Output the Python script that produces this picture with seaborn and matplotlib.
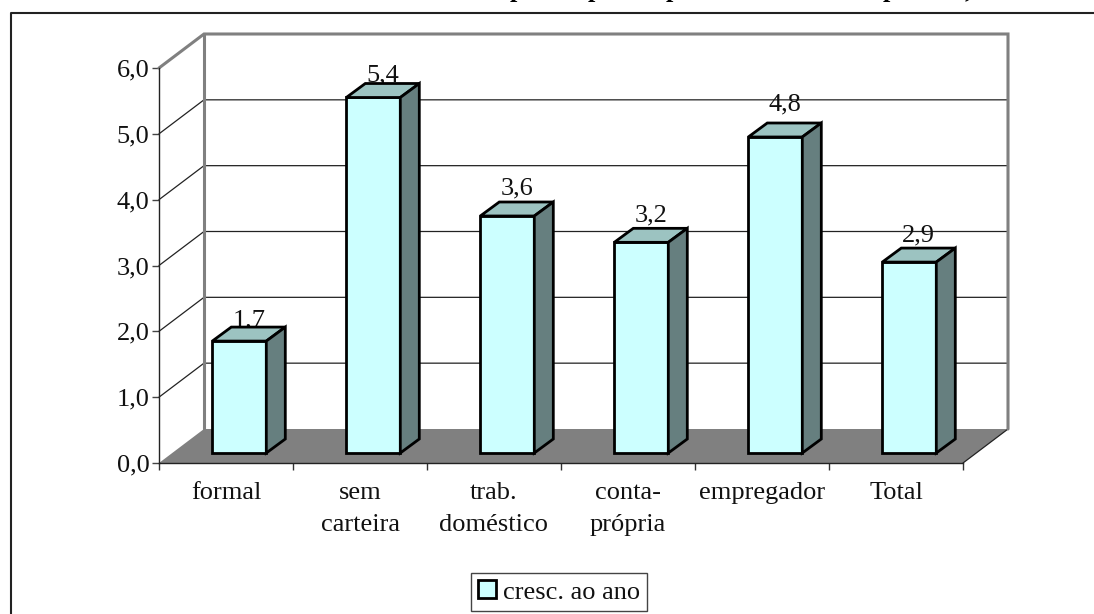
"""Crescimento ao ano por posição na ocupação - barras com efeito 3D."""

import matplotlib
matplotlib.use("Agg")
import matplotlib.pyplot as plt
import pandas as pd
import seaborn as sns
from matplotlib.lines import Line2D
from matplotlib.patches import Patch, Polygon

categorias = ["formal", "sem\ncarteira", "trab.\ndoméstico", "conta-\nprópria", "empregador", "Total"]
valores = [1.7, 5.4, 3.6, 3.2, 4.8, 2.9]
rotulos = ["1,7", "5,4", "3,6", "3,2", "4,8", "2,9"]
y_ticks = [0, 1, 2, 3, 4, 5, 6]
y_labels = ["0,0", "1,0", "2,0", "3,0", "4,0", "5,0", "6,0"]
serie = "cresc. ao ano"

# restos do titulo cortado no topo da imagem (so as descendentes aparecem)
titulo_chars = ["p", "p", "p", "p", ","]
titulo_x = [517, 595, 673, 890, 968]

W, H = 1094, 614
PX_X = 134.0  # pixels por categoria
PX_Y = 65.83  # pixels por unidade em y
FONTE = 19

FACE = "#CCFFFF"
TOPO = "#9CC3C1"
LADO = "#667F7F"
CINZA = "#808080"

sns.set_theme(style="white")
plt.rcParams["font.family"] = ["Liberation Serif", "DejaVu Serif"]

df = pd.DataFrame({"categoria": categorias, "valor": valores})

fig = plt.figure(figsize=(W / 100, H / 100), dpi=100, facecolor="white")
ax = fig.add_axes([159 / W, 1 - 463 / H, 804 / W, 395 / H])

sns.barplot(data=df, x="categoria", y="valor", color=FACE, saturation=1, width=54 / PX_X,
            edgecolor="black", linewidth=2, ax=ax, zorder=5)
ax.set_xlim(-0.5, 5.5)
ax.set_ylim(0, 6)
ax.set_xlabel("")
ax.set_ylabel("")

# profundidade da parede e das barras, em unidades dos dados
wx, wy = 45 / PX_X, 34 / PX_Y
bx, by = 19 / PX_X, 14 / PX_Y
shift_x, base_y = 13.3 / PX_X, 10 / PX_Y

# chao e paredes
ax.add_patch(Polygon([(-0.5, 0), (5.5, 0), (5.5 + wx, wy), (-0.5 + wx, wy)],
                     facecolor=CINZA, edgecolor="none", zorder=1, clip_on=False))
for y in y_ticks[1:-1]:
    ax.plot([-0.5, -0.5 + wx, 5.5 + wx], [y, y + wy, y + wy], color="#222222", lw=0.9,
            zorder=2, clip_on=False)
ax.plot([5.5, 5.5 + wx], [0, wy], color="#222222", lw=0.9, zorder=2, clip_on=False)
ax.plot([-0.5, -0.5 + wx, 5.5 + wx, 5.5 + wx], [6, 6 + wy, 6 + wy, wy], color=CINZA, lw=2.2,
        zorder=3, clip_on=False, solid_joinstyle="miter")
ax.plot([-0.5 + wx, -0.5 + wx], [wy, 6 + wy], color=CINZA, lw=2.2, zorder=3, clip_on=False)

# desloca as frentes e desenha topo e lado de cada barra
nudges = [1, 2, 8, 7, 13, 7]
for barra, v, txt, nudge in zip(ax.patches, valores, rotulos, nudges):
    barra.set_x(barra.get_x() + shift_x)
    barra.set_y(base_y)
    barra.set_clip_on(False)
    x0, x1 = barra.get_x(), barra.get_x() + barra.get_width()
    y0, y1 = base_y, base_y + v
    ax.add_patch(Polygon([(x0, y1), (x1, y1), (x1 + bx, y1 + by), (x0 + bx, y1 + by)],
                         facecolor=TOPO, edgecolor="black", lw=2, zorder=6, clip_on=False,
                         joinstyle="miter"))
    ax.add_patch(Polygon([(x1, y0), (x1 + bx, y0 + by), (x1 + bx, y1 + by), (x1, y1)],
                         facecolor=LADO, edgecolor="black", lw=2, zorder=6, clip_on=False,
                         joinstyle="miter"))
    ax.text((x0 + x1 + bx) / 2, y1 + by + nudge / PX_Y, txt, ha="center", va="baseline",
            fontsize=FONTE, color="#111111", zorder=4)

# eixos
sns.despine(ax=ax, top=True, right=True)
for lado in ["left", "bottom"]:
    ax.spines[lado].set_color("#222222")
    ax.spines[lado].set_linewidth(1.0)
    ax.spines[lado].set_zorder(4)
ax.set_yticks(y_ticks)
ax.set_yticklabels(y_labels)
ax.set_xticks(range(len(categorias)))
ax.set_xticklabels(categorias, linespacing=1.55)
ax.set_xticks([i - 0.5 for i in range(len(categorias) + 1)], minor=True)
ax.tick_params(axis="x", which="major", length=0, pad=14, labelsize=FONTE, labelcolor="#111111")
ax.tick_params(axis="x", which="minor", length=5, width=1, color="#333333", bottom=True)
ax.tick_params(axis="y", length=5, width=1, color="#444444", pad=2, labelsize=FONTE,
               labelcolor="#111111", left=True)

# moldura: so topo e esquerda aparecem
fig.add_artist(Line2D([11 / W, 11 / W, 1], [0, 1 - 13 / H, 1 - 13 / H], color="#222222", lw=1.5))

# legenda
handle = Patch(facecolor=FACE, edgecolor="black", lw=2, label=serie)
leg = fig.legend(handles=[handle], loc="center", bbox_to_anchor=(559 / W, 1 - 592 / H),
                 fontsize=FONTE, frameon=True, fancybox=False, edgecolor="#444444", framealpha=1,
                 handlelength=0.68, handleheight=0.68, handletextpad=0.25, borderpad=0.28,
                 borderaxespad=0, labelcolor="#111111")
leg.get_frame().set_linewidth(1.0)

for ch, x in zip(titulo_chars, titulo_x):
    fig.text(x / W, 1 + 3 / H, ch, ha="center", va="baseline", fontsize=FONTE, fontweight="bold",
             color="black")

fig.savefig("out.png", dpi=100)
